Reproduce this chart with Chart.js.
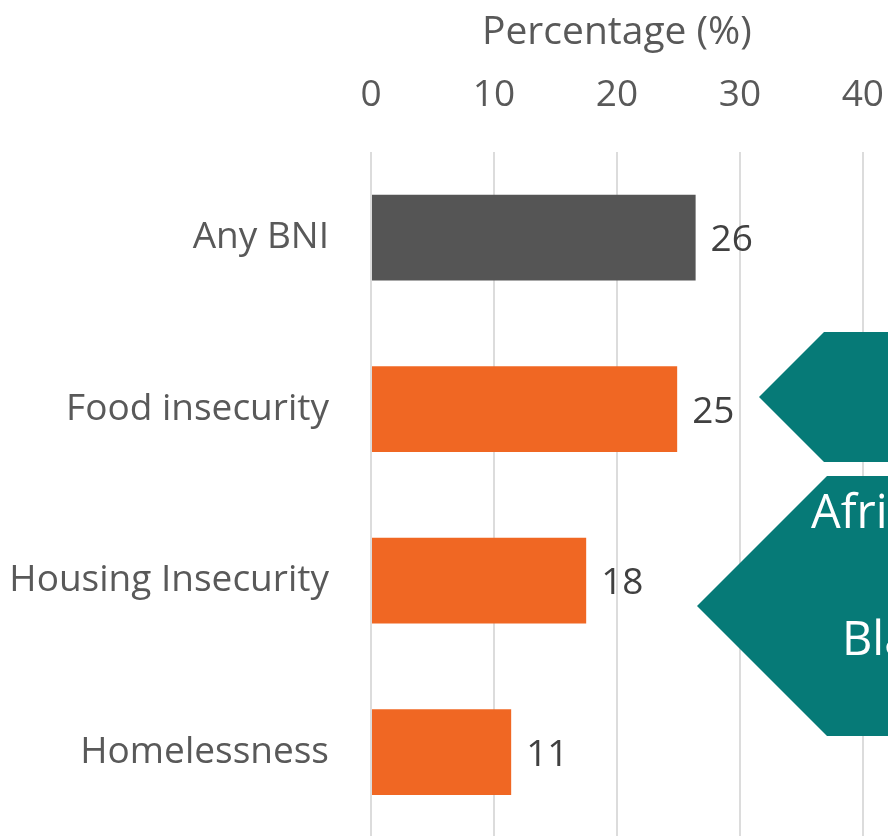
<!DOCTYPE html>
<html>
<head>
<meta charset="utf-8">
<script src="https://cdn.jsdelivr.net/npm/chart.js@4"></script>
<style>
  html, body { margin: 0; padding: 0; background: #fff; overflow: hidden; }
  canvas { display: block; }
</style>
</head>
<body>
<canvas id="bniChart" width="918" height="902"></canvas>
<script>
const categories = ['Any BNI', 'Food insecurity', 'Housing Insecurity', 'Homelessness'];
const percentages = [26.4, 24.9, 17.5, 11.4];
const barColors = ['#555555', '#F06723', '#F06723', '#F06723'];
const xTicks = [0, 10, 20, 30, 40];

const FONT = '"Open Sans", sans-serif';

// value labels to the right of each bar
const valueLabels = {
    id: 'valueLabels',
    afterDatasetsDraw(chart) {
        const ctx = chart.ctx;
        const meta = chart.getDatasetMeta(0);
        ctx.save();
        ctx.font = '37px ' + FONT;
        ctx.fillStyle = '#404040';
        ctx.textAlign = 'left';
        ctx.textBaseline = 'middle';
        meta.data.forEach((bar, i) => {
            ctx.fillText(String(Math.round(percentages[i])), bar.x + 15, bar.y + 3);
        });
        ctx.restore();
    }
};

// teal arrow callouts, cut off at the right edge
const callouts = {
    id: 'callouts',
    afterDatasetsDraw(chart) {
        const ctx = chart.ctx;
        ctx.save();
        ctx.fillStyle = '#067A77';
        ctx.beginPath();
        ctx.moveTo(759, 397);
        ctx.lineTo(824, 332);
        ctx.lineTo(930, 332);
        ctx.lineTo(930, 462);
        ctx.lineTo(824, 462);
        ctx.closePath();
        ctx.fill();

        ctx.beginPath();
        ctx.moveTo(697, 606);
        ctx.lineTo(827, 476);
        ctx.lineTo(930, 476);
        ctx.lineTo(930, 736);
        ctx.lineTo(827, 736);
        ctx.closePath();
        ctx.fill();

        ctx.fillStyle = '#ffffff';
        ctx.font = '47px ' + FONT;
        ctx.textAlign = 'left';
        ctx.textBaseline = 'alphabetic';
        ctx.fillText('African American', 811, 528);
        ctx.fillText('Black', 842, 655);
        ctx.restore();
    }
};

new Chart(document.getElementById('bniChart'), {
    type: 'bar',
    data: {
        labels: categories,
        datasets: [{
            data: percentages,
            backgroundColor: barColors,
            borderWidth: 0,
            barPercentage: 0.5,
            categoryPercentage: 1
        }]
    },
    options: {
        indexAxis: 'y',
        responsive: false,
        animation: false,
        devicePixelRatio: 1,
        layout: { padding: 0 },
        plugins: {
            legend: { display: false },
            tooltip: { enabled: false }
        },
        scales: {
            x: {
                position: 'top',
                min: xTicks[0],
                max: xTicks[xTicks.length - 1],
                afterBuildTicks: scale => {
                    scale.ticks = xTicks.map(v => ({ value: v }));
                },
                afterFit: scale => { scale.height = 152; },
                grid: { color: '#dcdcdc', lineWidth: 2, drawTicks: false },
                border: { display: false },
                ticks: {
                    color: '#595959',
                    font: { family: FONT, size: 37 },
                    padding: 34
                },
                title: {
                    display: true,
                    text: 'Percentage (%)',
                    color: '#595959',
                    font: { family: FONT, size: 39 },
                    padding: { top: 9, bottom: 0 }
                }
            },
            y: {
                afterFit: scale => { scale.width = 371; },
                grid: { display: false, drawTicks: false },
                border: { display: false },
                ticks: {
                    color: '#595959',
                    font: { family: FONT, size: 37 },
                    padding: 42
                }
            }
        }
    },
    plugins: [valueLabels, callouts]
});
</script>
</body>
</html>
